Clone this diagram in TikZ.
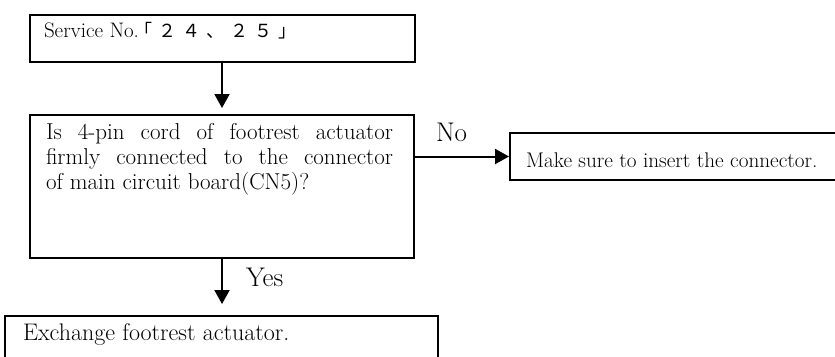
\documentclass[tikz,border=0pt]{standalone}
\usepackage{fontspec}
\newfontfamily\cjk{Noto Sans CJK JP}
\usetikzlibrary{arrows.meta}
\newcommand{\jc}[1]{\makebox[24bp][c]{\cjk\fontsize{18bp}{18bp}\selectfont #1}}
\begin{document}
\begin{tikzpicture}[x=1bp,y=-1bp,line width=2bp,
  box/.style={draw,rectangle,inner sep=0pt,anchor=north west},
  txt/.style={inner sep=0pt,anchor=base west},
  arr/.style={-{Triangle[length=14bp,width=15bp]}},
  lbl/.style={inner sep=0pt,anchor=base west,font=\fontsize{27bp}{27bp}\selectfont}]
\useasboundingbox (0,0) rectangle (835,356);
% boxes
\node[box,minimum width=385bp,minimum height=47bp] (b1) at (28.5,13.5) {};
\node[box,minimum width=384bp,minimum height=143bp] (b2) at (29,114) {};
\node[box,minimum width=340bp,minimum height=47bp] (b3) at (509,132) {};
\node[box,minimum width=433bp,minimum height=60bp] (b4) at (4,315) {};
% texts
\node[txt,font=\fontsize{21bp}{21bp}\selectfont] (t1) at (43,37)
  {Service No.\kern-7bp\jc{「}\jc{２}\jc{４}\jc{、}\jc{２}\jc{５}\jc{」}};
\node[txt,font=\fontsize{23bp}{25bp}\selectfont] (t2) at (45,139)
  {\parbox[t]{347bp}{Is 4-pin cord of footrest actuator\linebreak
   firmly connected to the connector\linebreak
   of main circuit board(CN5)?}};
\node[txt,font=\fontsize{21.2bp}{21.2bp}\selectfont] (t3) at (525,167)
  {Make sure to insert the connector.};
\node[txt,font=\fontsize{24bp}{24bp}\selectfont] (t4) at (22,340)
  {Exchange footrest actuator.};
% labels
\node[lbl] (lno) at (435,141.7) {No};
\node[lbl] (lyes) at (245,286) {Yes};
% connectors
\draw[arr,shorten >=6bp] (b1.south) -- (b1.south |- b2.north);
\draw[arr] (b2.east |- b3.west) -- (b3.west);
\draw[arr,shorten >=11bp] (b2.south) -- (b2.south |- b4.north);
\end{tikzpicture}
\end{document}
